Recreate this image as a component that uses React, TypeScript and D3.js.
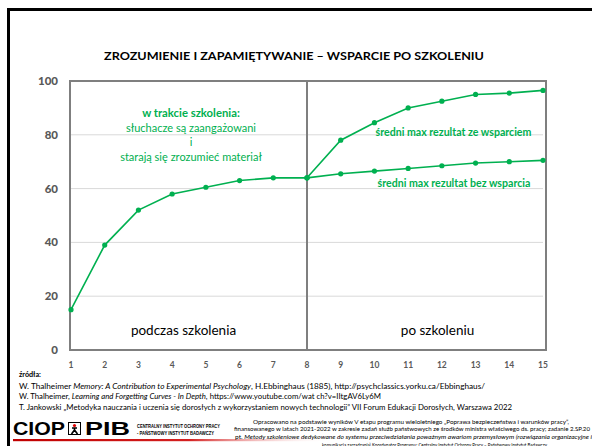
import React from 'react';
import * as d3 from 'd3';

// data
const days = [1, 2, 3, 4, 5, 6, 7, 8, 9, 10, 11, 12, 13, 14, 15];
const trainingDays = [1, 2, 3, 4, 5, 6, 7, 8];
const afterDays = [8, 9, 10, 11, 12, 13, 14, 15];
const duringValues = [15, 39, 52, 58, 60.5, 63, 64, 64];
const withSupport = [64, 78, 84.5, 90, 92.5, 95, 95.5, 96.5];
const withoutSupport = [64, 65.5, 66.5, 67.5, 68.5, 69.5, 70, 70.5];
const yTicks = [0, 20, 40, 60, 80, 100];

const title = 'ZROZUMIENIE I ZAPAMIĘTYWANIE – WSPARCIE PO SZKOLENIU';
const trainingNote = ['słuchacze są zaangażowani', 'i', 'starają się zrozumieć materiał'];

const GREEN = '#00b050';
const AXIS = '#7f7f7f';
const LABEL = '#595959';
const FONT = 'Lato, "Open Sans", sans-serif';

export default function App() {
  const x = d3.scaleLinear().domain([1, 15]).range([71, 543]);
  const y = d3.scaleLinear().domain([0, 100]).range([350, 81]);

  const line = d3.line<[number, number]>()
    .x(d => x(d[0]))
    .y(d => y(d[1]));

  const series = [
    trainingDays.map((d, i) => [d, duringValues[i]] as [number, number]),
    afterDays.map((d, i) => [d, withSupport[i]] as [number, number]),
    afterDays.map((d, i) => [d, withoutSupport[i]] as [number, number]),
  ];

  const plotLeft = 70, plotRight = 546;
  const divider = x(8);

  return (
    <svg width={592} height={446} style={{ position: 'absolute', left: 0, top: 0, background: '#fff' }}
      fontFamily={FONT}>
      <defs>
        <linearGradient id="redfade" x1="0" x2="1" y1="0" y2="0">
          <stop offset="0" stopColor="#c00000" />
          <stop offset="0.55" stopColor="#d42020" />
          <stop offset="1" stopColor="#ffffff" stopOpacity={0} />
        </linearGradient>
      </defs>

      {/* slide frame */}
      <rect x={8.5} y={9.5} width={620} height={470} fill="none" stroke="#000" strokeWidth={3} />

      <text x={104} y={60} fontSize={12} fontWeight="bold" fill="#000" textLength={380}
        lengthAdjust="spacingAndGlyphs">{title}</text>

      {/* gridlines */}
      {yTicks.filter(t => t > 0 && t < 100).map(t => (
        <line key={t} x1={plotLeft} x2={543} y1={y(t)} y2={y(t)} stroke="#d9d9d9" strokeWidth={1} />
      ))}

      {/* plot frame and divider */}
      <rect x={plotLeft} y={y(100)} width={plotRight - plotLeft} height={y(0) - y(100)}
        fill="none" stroke={AXIS} strokeWidth={2} />
      <line x1={divider} x2={divider} y1={y(100)} y2={y(0)} stroke={AXIS} strokeWidth={2} />

      {/* y tick labels */}
      {yTicks.map(t => (
        <text key={t} x={58} y={y(t)} dy="0.35em" textAnchor="end" fontSize={11.5}
          fontWeight="900" fill={LABEL}>{t}</text>
      ))}

      {/* x tick labels */}
      {days.map(d => (
        <text key={d} x={x(d)} y={368} textAnchor="middle" fontSize={8.5} fontWeight="bold"
          fill={LABEL}>{d}</text>
      ))}

      {/* lines */}
      {series.map((s, i) => (
        <g key={i}>
          <path d={line(s) ?? ''} fill="none" stroke={GREEN} strokeWidth={1.6} />
          {s.map((p, j) => (
            <circle key={j} cx={x(p[0])} cy={y(p[1])} r={2.6} fill={GREEN} />
          ))}
        </g>
      ))}

      {/* annotations */}
      <text x={191} y={117} textAnchor="middle" fontSize={11.3} fontWeight="bold" fill={GREEN}>
        w trakcie szkolenia:
      </text>
      {trainingNote.map((t, i) => (
        <text key={i} x={191} y={131.5 + i * 14.7} textAnchor="middle" fontSize={11} fill={GREEN}>{t}</text>
      ))}
      <text x={453.5} y={136} textAnchor="middle" fontSize={10.6} fontWeight="bold" fill={GREEN}>
        średni max rezultat ze wsparciem
      </text>
      <text x={454} y={187} textAnchor="middle" fontSize={10.6} fontWeight="bold" fill={GREEN}>
        średni max rezultat bez wsparcia
      </text>
      <text x={183.5} y={335} textAnchor="middle" fontSize={13.5} fill="#000">podczas szkolenia</text>
      <text x={437.5} y={335} textAnchor="middle" fontSize={13.5} fill="#000">po szkoleniu</text>

      {/* sources */}
      <g fontSize={7.2} fill="#000">
        <text x={19} y={377} fontWeight="bold">źródła:</text>
        <text x={19} y={388.5} textLength={466} lengthAdjust="spacingAndGlyphs">
          W. Thalheimer <tspan fontStyle="italic">Memory: A Contribution to Experimental Psychology</tspan>, H.Ebbinghaus (1885), http://psychclassics.yorku.ca/Ebbinghaus/
        </text>
        <text x={19} y={399} textLength={362} lengthAdjust="spacingAndGlyphs">
          W. Thalheimer, <tspan fontStyle="italic">Learning and Forgetting Curves - In Depth</tspan>, https://www.youtube.com/wat ch?v=IItgAV6Ly6M
        </text>
        <text x={19} y={409.5} textLength={493} lengthAdjust="spacingAndGlyphs">
          T. Jankowski „Metodyka nauczania i uczenia się dorosłych z wykorzystaniem nowych technologii” VII Forum Edukacji Dorosłych, Warszawa 2022
        </text>
      </g>

      {/* logo */}
      <rect x={13} y={439} width={320} height={2.2} fill="url(#redfade)" />
      <text x={13} y={435} fontFamily="'Liberation Sans', Arial, sans-serif" fontSize={18}
        fontWeight="bold" fill="#000" textLength={52} lengthAdjust="spacingAndGlyphs">CIOP</text>
      <rect x={68.5} y={422.5} width={12} height={12} fill="#fff" stroke="#000" strokeWidth={1} />
      <circle cx={74.5} cy={425.5} r={1.6} fill="#e00000" />
      <path d="M74.5,427.5 L74.5,430 M74.5,430 L71.5,434 M74.5,430 L77.5,434 M72,428 L77,428"
        stroke="#000" strokeWidth={1.6} fill="none" />
      <text x={85} y={435} fontFamily="'Liberation Sans', Arial, sans-serif" fontSize={18}
        fontWeight="bold" fill="#000" textLength={45} lengthAdjust="spacingAndGlyphs">PIB</text>
      <g fontFamily="'Liberation Sans', Arial, sans-serif" fontSize={4.6} fontWeight="bold" fill="#000">
        <text x={137} y={428} textLength={83} lengthAdjust="spacingAndGlyphs">CENTRALNY INSTYTUT OCHRONY PRACY</text>
        <text x={137} y={434.5} textLength={77} lengthAdjust="spacingAndGlyphs">- PAŃSTWOWY INSTYTUT BADAWCZY</text>
      </g>

      {/* footer note */}
      <g fontSize={5.6} fill="#000">
        <text x={253} y={423.5} textLength={316} lengthAdjust="spacingAndGlyphs">
          Opracowano na podstawie wyników V etapu programu wieloletniego „Poprawa bezpieczeństwa i warunków pracy”,
        </text>
        <text x={234} y={431} textLength={356} lengthAdjust="spacingAndGlyphs">
          finansowanego w latach 2021-2022 w zakresie zadań służb państwowych ze środków ministra właściwego ds. pracy; zadanie 2.SP.20
        </text>
        <text x={235} y={439} textLength={357} lengthAdjust="spacingAndGlyphs">
          pt. <tspan fontStyle="italic">Metody szkoleniowe dedykowane do systemu przeciwdziałania poważnym awariom przemysłowym (rozwiązania organizacyjne i</tspan>
        </text>
        <text x={322} y={446.5} textLength={225} lengthAdjust="spacingAndGlyphs">
          komunikacja zarządzania) Koordynator Programu: Centralny Instytut Ochrony Pracy – Państwowy Instytut Badawczy
        </text>
      </g>
    </svg>
  );
}
